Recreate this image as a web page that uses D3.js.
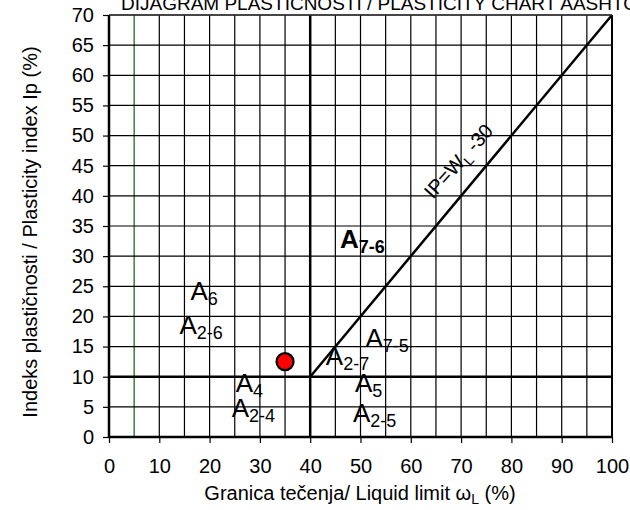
<!DOCTYPE html>
<html>
<head>
<meta charset="utf-8">
<script src="https://cdn.jsdelivr.net/npm/d3@7"></script>
<style>
  body { margin: 0; background: #fff; }
  svg { display: block; font-family: "Liberation Sans", Arial, sans-serif; }
</style>
</head>
<body>
<svg id="chart" width="630" height="510"></svg>
<script>
// ----------------------
// data
// ----------------------
const xTicks = [0, 10, 20, 30, 40, 50, 60, 70, 80, 90, 100];
const yTicks = [0, 5, 10, 15, 20, 25, 30, 35, 40, 45, 50, 55, 60, 65, 70];
const gridX = [0, 5, 10, 15, 20, 25, 30, 35, 40, 45, 50, 55, 60, 65, 70, 75, 80, 85, 90, 95, 100];
const gridY = [0, 5, 10, 15, 20, 25, 30, 35, 40, 45, 50, 55, 60, 65, 70];

// boundary lines of the AASHTO chart
const ipLine = [{ wl: 40, ip: 10 }, { wl: 100, ip: 70 }];   // IP = WL - 30
const wlLimit = 40;
const ipLimit = 10;
const greenLine = 5;

// zone labels (WL, IP of label anchor)
const zoneLabels = [
    { main: "A", sub: "6",   wl: 16.2, ip: 22.8, bold: false },
    { main: "A", sub: "2-6", wl: 14.0, ip: 17.1, bold: false },
    { main: "A", sub: "7-6", wl: 45.9, ip: 31.3, bold: true },
    { main: "A", sub: "7-5", wl: 51.0, ip: 14.9, bold: false },
    { main: "A", sub: "2-7", wl: 43.1, ip: 11.9, bold: false },
    { main: "A", sub: "4",   wl: 25.2, ip: 7.5,  bold: false },
    { main: "A", sub: "5",   wl: 48.9, ip: 7.5,  bold: false },
    { main: "A", sub: "2-4", wl: 24.4, ip: 3.4,  bold: false },
    { main: "A", sub: "2-5", wl: 48.5, ip: 2.5,  bold: false }
];

// measured sample
const samples = [{ wl: 35, ip: 12.5 }];

// ----------------------
// layout
// ----------------------
const svg = d3.select("#chart");
const width = +svg.attr("width");
const height = +svg.attr("height");
const margin = { top: 15, right: 18, bottom: 73, left: 109 };
const innerW = width - margin.left - margin.right;
const innerH = height - margin.top - margin.bottom;

const x = d3.scaleLinear().domain([0, 100]).range([0, innerW]);
const y = d3.scaleLinear().domain([0, 70]).range([innerH, 0]);

const g = svg.append("g")
    .attr("transform", `translate(${margin.left},${margin.top})`);

// title (partly cut off at top, as in original)
svg.append("text")
    .attr("x", 121)
    .attr("y", 10)
    .attr("font-size", 19)
    .text("DIJAGRAM PLASTIČNOSTI / PLASTICITY CHART AASHTO");

// grid
g.selectAll(".gx").data(gridX).enter().append("line")
    .attr("x1", d => x(d)).attr("x2", d => x(d))
    .attr("y1", 0).attr("y2", innerH)
    .attr("stroke", d => d === greenLine ? "#0f5f0f" : "#000")
    .attr("stroke-width", 1.2);

g.selectAll(".gy").data(gridY).enter().append("line")
    .attr("x1", 0).attr("x2", innerW)
    .attr("y1", d => y(d)).attr("y2", d => y(d))
    .attr("stroke", "#000")
    .attr("stroke-width", 1.2);

// thick dividing lines
g.append("line")
    .attr("x1", x(wlLimit)).attr("x2", x(wlLimit))
    .attr("y1", y(0)).attr("y2", y(70))
    .attr("stroke", "#000").attr("stroke-width", 2.5);
g.append("line")
    .attr("x1", x(0)).attr("x2", x(100))
    .attr("y1", y(ipLimit)).attr("y2", y(ipLimit))
    .attr("stroke", "#000").attr("stroke-width", 2.5);

const lineGen = d3.line().x(d => x(d.wl)).y(d => y(d.ip));
g.append("path")
    .datum(ipLine)
    .attr("d", lineGen)
    .attr("fill", "none")
    .attr("stroke", "#000")
    .attr("stroke-width", 2.5);

// frame
g.append("line").attr("x1", 0).attr("x2", 0).attr("y1", 0).attr("y2", innerH)
    .attr("stroke", "#000").attr("stroke-width", 2.5);
g.append("line").attr("x1", innerW).attr("x2", innerW).attr("y1", 0).attr("y2", innerH)
    .attr("stroke", "#000").attr("stroke-width", 2);
g.append("line").attr("x1", 0).attr("x2", innerW).attr("y1", 0).attr("y2", 0)
    .attr("stroke", "#333").attr("stroke-width", 1.5);
g.append("line").attr("x1", 0).attr("x2", innerW).attr("y1", innerH).attr("y2", innerH)
    .attr("stroke", "#000").attr("stroke-width", 2.5);

// axes
const xAxisG = g.append("g")
    .attr("transform", `translate(0,${innerH})`)
    .call(d3.axisBottom(x).tickValues(xTicks).tickSize(6).tickPadding(16));
const yAxisG = g.append("g")
    .call(d3.axisLeft(y).tickValues(yTicks).tickSize(6).tickPadding(9));

[xAxisG, yAxisG].forEach(a => {
    a.select(".domain").remove();
    a.selectAll("line").attr("stroke", "#000").attr("stroke-width", 1.2);
    a.selectAll("text")
        .attr("font-size", 20)
        .attr("font-family", "Liberation Sans, Arial, sans-serif")
        .attr("fill", "#000");
});

// IP = WL - 30 label
const lblPt = { wl: 70.5, ip: 45 };
const ipLbl = g.append("text")
    .attr("transform", `translate(${x(lblPt.wl)},${y(lblPt.ip)}) rotate(-48)`)
    .attr("text-anchor", "middle")
    .attr("font-size", 20);
ipLbl.append("tspan").text("IP=W");
ipLbl.append("tspan").attr("font-size", 14).attr("dy", 5).text("L");
ipLbl.append("tspan").attr("dy", -5).text(" -30");

// zone labels
const zl = g.selectAll(".zone").data(zoneLabels).enter().append("text")
    .attr("class", "zone")
    .attr("x", d => x(d.wl))
    .attr("y", d => y(d.ip))
    .attr("font-weight", d => d.bold ? "bold" : "normal");
zl.append("tspan").attr("font-size", 26).text(d => d.main);
zl.append("tspan").attr("font-size", 18).attr("dy", 5).text(d => d.sub);

// sample point
g.selectAll(".pt").data(samples).enter().append("circle")
    .attr("cx", d => x(d.wl))
    .attr("cy", d => y(d.ip))
    .attr("r", 8.5)
    .attr("fill", "#ff0000")
    .attr("stroke", "#000")
    .attr("stroke-width", 2.2);

// axis titles
const xt = svg.append("text")
    .attr("x", 360)
    .attr("y", 500)
    .attr("text-anchor", "middle")
    .attr("font-size", 20);
xt.append("tspan").text("Granica tečenja/ Liquid limit ω");
xt.append("tspan").attr("font-size", 14).attr("dy", 4).text("L");
xt.append("tspan").attr("dy", -4).text(" (%)");

svg.append("text")
    .attr("transform", `translate(37,232) rotate(-90)`)
    .attr("text-anchor", "middle")
    .attr("font-size", 20)
    .text("Indeks plastičnosti / Plasticity index Ip (%)");
</script>
</body>
</html>
